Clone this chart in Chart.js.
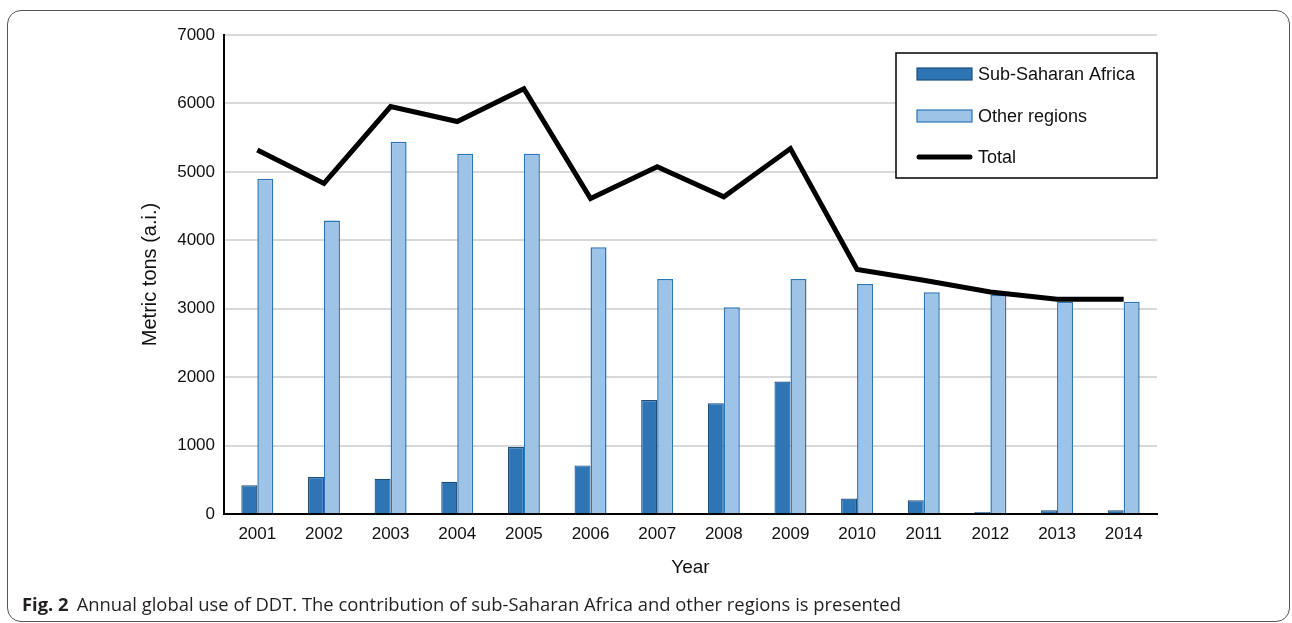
<!DOCTYPE html>
<html lang="en">
<head>
  <meta charset="UTF-8">
  <title>Annual global use of DDT</title>
  <style>
    *{margin:0;padding:0;box-sizing:border-box;}
    body{background:#fff;width:1292px;height:623px;overflow:hidden;position:relative;}
    #frame{position:absolute;left:7px;top:10px;width:1283px;height:612px;border:1px solid #555;border-radius:14px;}
    #box{position:absolute;left:0;top:0;width:1292px;height:623px;}
    #caption{position:absolute;left:22px;top:591px;font-family:'Open Sans',sans-serif;font-size:18.4px;line-height:25px;color:#231f20;white-space:nowrap;letter-spacing:0;}
    #caption b{font-weight:700;margin-right:8px;}
  </style>
  <script src="https://cdn.jsdelivr.net/npm/chart.js@4.4.0/dist/chart.umd.min.js"></script>
</head>
<body>
  <div id="frame"></div>
  <div id="box"><canvas id="chart" width="1292" height="623"></canvas></div>
  <div id="caption"><b>Fig. 2</b>Annual global use of DDT. The contribution of sub-Saharan Africa and other regions is presented</div>

  <script>
    // data
    const years        = ["2001","2002","2003","2004","2005","2006","2007","2008","2009","2010","2011","2012","2013","2014"];
    const subSaharan   = [420, 540, 515, 470, 980, 710, 1665, 1620, 1935, 225, 200, 30, 55, 55];
    const otherRegions = [4900, 4290, 5440, 5265, 5265, 3900, 3435, 3020, 3435, 3360, 3240, 3200, 3100, 3100];
    const total        = [5320, 4830, 5955, 5735, 6215, 4610, 5075, 4635, 5340, 3575, 3415, 3245, 3140, 3140];
    const yTicks       = [0, 1000, 2000, 3000, 4000, 5000, 6000, 7000];

    const FONT = "'Liberation Sans', Arial, sans-serif";

    // legend drawn inside the plot, top right
    const boxLegend = {
      id: "boxLegend",
      afterDraw(chart) {
        const c = chart.ctx, a = chart.chartArea;
        const x0 = a.right - 261, y0 = a.top + 18, w = 261, h = 125;
        c.save();
        c.fillStyle = "#fff";
        c.fillRect(x0, y0, w, h);
        c.strokeStyle = "#000";
        c.lineWidth = 1.5;
        c.strokeRect(x0, y0, w, h);
        c.font = "18px " + FONT;
        c.textBaseline = "middle";
        const rows = [21, 63, 104];
        chart.data.datasets.forEach((ds, i) => {
          const y = y0 + rows[i], sx = x0 + 21;
          if (ds.type === "line") {
            c.strokeStyle = ds.borderColor;
            c.lineWidth = 5;
            c.lineCap = "round";
            c.beginPath(); c.moveTo(sx + 2, y); c.lineTo(sx + 53, y); c.stroke();
          } else {
            c.fillStyle = ds.backgroundColor;
            c.fillRect(sx, y - 6, 55, 12);
            c.strokeStyle = ds.borderColor;
            c.lineWidth = 1.2;
            c.strokeRect(sx, y - 6, 55, 12);
          }
          c.fillStyle = "#111";
          c.fillText(ds.label, sx + 61, y + 1);
        });
        c.restore();
      }
    };

    new Chart(document.getElementById("chart"), {
      data: {
        labels: years,
        datasets: [
          { type: "bar", label: "Sub-Saharan Africa", data: subSaharan,
            backgroundColor: "#2e75b6", borderColor: "#1f4e79", borderWidth: 1.2,
            categoryPercentage: 0.48, barPercentage: 1, order: 1 },
          { type: "bar", label: "Other regions", data: otherRegions,
            backgroundColor: "#9dc3e6", borderColor: "#2e75b6", borderWidth: 1.5,
            categoryPercentage: 0.48, barPercentage: 1, order: 1 },
          { type: "line", label: "Total", data: total,
            borderColor: "#000", borderWidth: 5, pointRadius: 0, tension: 0,
            fill: false, order: 0 }
        ]
      },
      options: {
        responsive: false,
        animation: false,
        layout: { padding: { left: 0, top: 35, right: 135, bottom: 39 } },
        plugins: { legend: { display: false }, tooltip: { enabled: false } },
        scales: {
          x: {
            grid: { display: false, drawTicks: false },
            border: { display: true, color: "#000", width: 2 },
            ticks: { color: "#111", font: { family: FONT, size: 17 }, padding: 10, maxRotation: 0 },
            title: { display: true, text: "Year", color: "#111",
                     font: { family: FONT, size: 19 }, padding: { bottom: 5 } },
            afterFit: s => { s.height = 70; }
          },
          y: {
            min: 0, max: 7000,
            afterBuildTicks: s => { s.ticks = yTicks.map(v => ({ value: v })); },
            grid: { color: "#d9d9d9", lineWidth: 2, drawTicks: false },
            border: { display: true, color: "#000", width: 2 },
            ticks: { color: "#111", font: { family: FONT, size: 17 }, padding: 9,
                     callback: v => String(v) },
            title: { display: true, text: "Metric tons (a.i.)", color: "#111",
                     font: { family: FONT, size: 20 }, padding: { top: 138 } },
            afterFit: s => { s.width = 224; }
          }
        }
      },
      plugins: [boxLegend]
    });
  </script>
</body>
</html>
